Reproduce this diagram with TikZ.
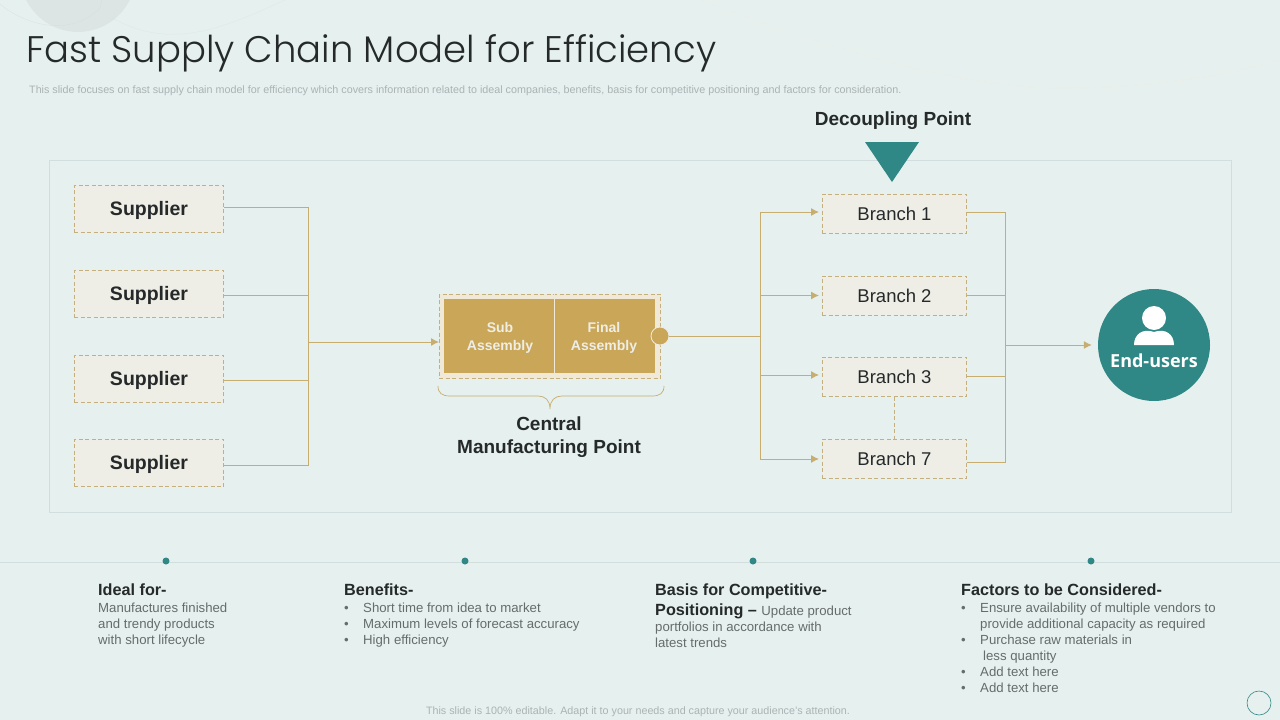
\documentclass[tikz,border=0pt]{standalone}
\usepackage{fontspec}
\setmainfont{Liberation Sans}
\newfontfamily\titlefont{Poppins Light}
\newfontfamily\circlefont{Open Sans}
\usetikzlibrary{positioning}
\usetikzlibrary{arrows.meta}
\usetikzlibrary{backgrounds}
\definecolor{slidebg}{HTML}{E6F0EF}
\definecolor{gold}{HTML}{C9A658}
\definecolor{goldline}{HTML}{C8AD70}
\definecolor{dashline}{HTML}{C4B07E}
\definecolor{teal}{HTML}{2F8885}
\definecolor{boxfill}{HTML}{EEEEE6}
\definecolor{creamfill}{HTML}{F1E9D8}
\definecolor{inktext}{HTML}{25292A}
\definecolor{bodytext}{HTML}{666C6C}
\definecolor{faint}{HTML}{ABB3B3}
\definecolor{rulecol}{HTML}{D2DDDD}
\tikzstyle{wire} = [draw, goldline, line width=1pt]
\tikzstyle{line} = [wire, -{Latex[length=8pt,width=8pt]}, shorten >=3pt]
\newcommand{\bul}{\makebox[19pt][l]{\textbullet}}
\newcommand{\hng}{\hspace*{19pt}}

\begin{document}
\begin{tikzpicture}[
  x=1pt, y=-1pt,
  box/.style={draw=dashline, fill=boxfill, rectangle, dash pattern=on 4pt off 2.5pt,
    line width=0.6pt, inner sep=0pt, text=inktext},
  supplier/.style={box, minimum width=149.4pt, minimum height=47.4pt, text height=13pt, text depth=0pt,
    font=\fontsize{19.5}{19.5}\selectfont\bfseries},
  branch/.style={box, minimum width=144.4pt, minimum height=39.4pt, font=\fontsize{18.5}{18.5}\selectfont},
  part/.style={fill=gold, inner sep=0pt, minimum height=74pt},
  parttext/.style={inner sep=0pt, text=boxfill, align=center, font=\fontsize{14}{18}\selectfont\bfseries},
  pin/.style={circle, fill=teal, inner sep=0pt, minimum size=7pt},
  heading/.style={anchor=north west, inner sep=0pt, align=left, text=inktext,
    font=\fontsize{16.2}{20}\selectfont\bfseries},
  body/.style={anchor=north west, inner sep=0pt, align=left, text=bodytext,
    font=\fontsize{13.2}{16}\selectfont},
  note/.style={inner sep=0pt, text=faint, font=\fontsize{10.75}{12}\selectfont}]
	\useasboundingbox (0,0) rectangle (1280,720);
	\fill [slidebg] (0,0) rectangle (1280,720);
	%% Backdrop
	\begin{scope}
	\clip (0,0) rectangle (1280,720);
	\fill [black!60!slidebg, opacity=0.07] (78,-26) circle (58);
	\draw [rulecol, opacity=0.6] (0,4) .. controls (25,25) and (70,38) .. (100,8) -- (102,0);
	\draw [rulecol, opacity=0.4] (112,18) .. controls (170,50) and (220,30) .. (285,0);
	\draw [boxfill] (700,0) .. controls (900,75) and (1000,90) .. (1080,88) .. controls (1160,86) and (1230,75) .. (1280,60);
	\end{scope}
	%% Titles
	\node [anchor=west, inner sep=0pt, text=inktext, font=\fontsize{37}{37}\selectfont\titlefont] (title) at (26,53) {Fast Supply Chain Model for Efficiency};
	\node [note, anchor=west] (subtitle) at (29,91) {This slide focuses on fast supply chain model for efficiency which covers information related to ideal companies, benefits, basis for competitive positioning and factors for consideration.};
	\node [note] (footer) at (638,712) {This slide is 100\% editable. Adapt it to your needs and capture your audience's attention.};
	\node [circle, draw=teal, inner sep=0pt, minimum size=24pt, line width=0.6pt] (badge) at (1259,703) {};
	%% Frame
	\node [draw=rulecol, minimum width=1181.5pt, minimum height=352.5pt, inner sep=0pt, line width=0.8pt] (frame) at (640.5,336.5) {};
	%% States
	\node [supplier] at (149,209) (sup1) {Supplier};
	\node [supplier] at (149,294) (sup2) {Supplier};
	\node [supplier] at (149,379) (sup3) {Supplier};
	\node [supplier] at (149,463) (sup4) {Supplier};
	\node [box, fill=creamfill, minimum width=221.4pt, minimum height=84.4pt] at (550,336.5) (central) {};
	\node [part, minimum width=110pt] at (499,336) (sub) {};
	\node [part, minimum width=100pt] at (605,336) (final) {};
	\node [parttext] at (500,338) (subtext) {Sub\\Assembly};
	\node [parttext] at (604,338) (finaltext) {Final\\Assembly};
	\node [circle, fill=gold, draw=boxfill, line width=0.8pt, inner sep=0pt, minimum size=18pt] at (660,336) (dot) {};
	\node [branch] at (894.5,214) (br1) {Branch 1};
	\node [branch] at (894.5,295.5) (br2) {Branch 2};
	\node [branch] at (894.5,376.5) (br3) {Branch 3};
	\node [branch] at (894.5,458.5) (br7) {Branch 7};
	\node [circle, fill=teal, inner sep=0pt, minimum size=112pt] at (1154,345) (users) {};
	\node [text=white, inner sep=0pt, font=\fontsize{18}{18}\selectfont\circlefont\bfseries] at (1154,361) (userstext) {End-users};
	\fill [white] (1154,318) circle (12);
	\fill [white] (1134,345) .. controls (1134,334) and (1143,328) .. (1154,332) .. controls (1165,328) and (1174,334) .. (1174,345) -- cycle;
	\draw [teal, line width=0.5pt] (1143,327) .. controls (1148,332) and (1160,332) .. (1165,327);
	\node [inner sep=0pt, text=inktext, font=\fontsize{19}{19}\selectfont\bfseries] at (893,121) (decouple) {Decoupling Point};
	\fill [teal] (865,142) -- (919,142) -- (892,182) -- cycle;
	\node [inner sep=0pt, text=inktext, align=center, font=\fontsize{19}{23}\selectfont\bfseries] at (549,437.5) (centraltext) {Central\\Manufacturing Point};
	%% Junctions
	\coordinate (busL) at (308,342);
	\coordinate (busM) at (760,336);
	\coordinate (busR) at (1005,345);
	%% Flows
	\path [wire] ([yshift=2pt]sup1.east) -| (busL);
	\path [wire] ([yshift=-1pt]sup2.east) -| (busL);
	\path [wire] ([yshift=-1pt]sup3.east) -| (busL);
	\path [wire] ([yshift=-2pt]sup4.east) -| (busL);
	\path [line, shorten >=0pt] (busL) to (central.west |- busL);
	\path [wire] (dot) to (busM);
	\path [line] (busM) |- ([yshift=2pt]br1.west);
	\path [line] (busM) |- (br2.west);
	\path [line] (busM) |- ([yshift=1.5pt]br3.west);
	\path [line] (busM) |- ([yshift=-0.5pt]br7.west);
	\path [wire] ([yshift=2pt]br1.east) -| (busR);
	\path [wire] (br2.east) -| (busR);
	\path [wire] (br3.east) -| (busR);
	\path [wire] ([yshift=-3.5pt]br7.east) -| (busR);
	\path [line, shorten >=6pt] (busR) to (users.west);
	\draw [dashline, dash pattern=on 4pt off 2.5pt, line width=0.6pt] (br3.south) -- (br7.north);
	\draw [creamfill, line width=1pt] (554.5,294) -- (554.5,379);
	\draw [goldline, line width=0.7pt] (438,386) .. controls (438,393) and (442,396) .. (450,396) -- (538,396) .. controls (545,396) and (550,400) .. (550,409) .. controls (550,400) and (555,396) .. (562,396) -- (652,396) .. controls (660,396) and (664,393) .. (664,386);
	%% Bottom row
	\draw [rulecol, line width=0.8pt] (0,562) -- (1280,562);
	\node [pin] at (166,561) (pinA) {};
	\node [pin] at (465,561) (pinB) {};
	\node [pin] at (753,561) (pinC) {};
	\node [pin] at (1091,561) (pinD) {};
	\node [heading] at (98,584) (idealhead) {Ideal for-};
	\node [body] at (98,603) (idealbody) {Manufactures finished\\and trendy products\\with short lifecycle};
	\node [heading] at (344,584) (benefithead) {Benefits-};
	\node [body] at (344,603) (benefitbody) {\bul Short time from idea to market\\\bul Maximum levels of forecast accuracy\\\bul High efficiency};
	\node [heading] at (655,584) (basishead) {Basis for Competitive-\\Positioning -- {\fontsize{13.2}{16}\selectfont\mdseries\color{bodytext}Update product}};
	\node [body] at (655,622) (basisbody) {portfolios in accordance with\\latest trends};
	\node [heading] at (961,584) (factorhead) {Factors to be Considered-};
	\node [body] at (961,603) (factorbody) {\bul Ensure availability of multiple vendors to\\\hng provide additional capacity as required\\\bul Purchase raw materials in\\\hng\hspace*{3pt}less quantity\\\bul Add text here\\\bul Add text here};
\end{tikzpicture}
\end{document}
